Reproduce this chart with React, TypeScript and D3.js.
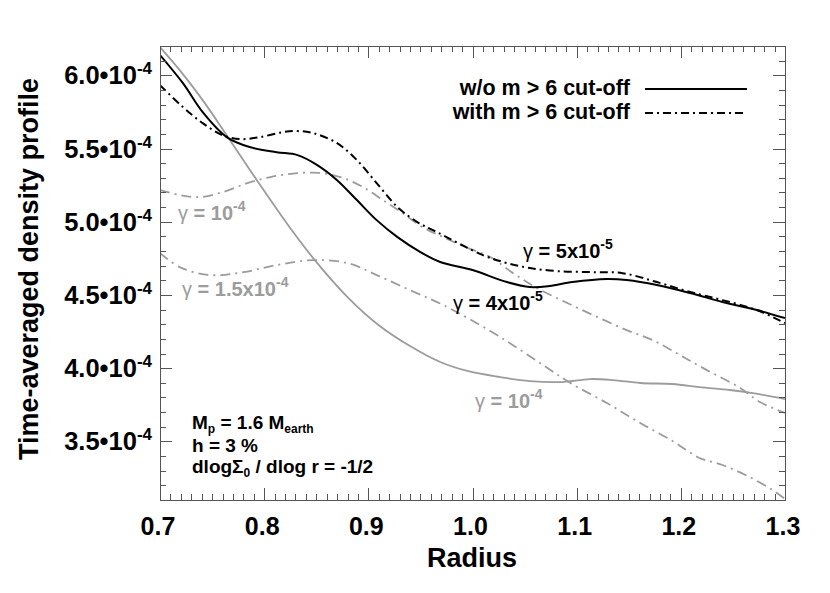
import React from 'react';
import * as d3 from 'd3';

const W = 830;
const H = 593;

// axis definitions
const xDomain = [0.7, 1.3];
const yDomain = [3.1, 6.2]; // in units of 1e-4
const xTicks = [0.7, 0.8, 0.9, 1.0, 1.1, 1.2, 1.3];
const xTickLabels = ['0.7', '0.8', '0.9', '1.0', '1.1', '1.2', '1.3'];
const yTicks = [3.5, 4.0, 4.5, 5.0, 5.5, 6.0];
const yTickLabels = ['3.5\u202210', '4.0\u202210', '4.5\u202210', '5.0\u202210', '5.5\u202210', '6.0\u202210'];
const yTickExp = '-4';

// series: w/o m>6 cut-off (gamma = 4e-5), black solid
const blackSolidR = [0.700, 0.722, 0.741, 0.764, 0.786, 0.812, 0.832, 0.851, 0.870, 0.889, 0.908, 0.928, 0.950, 0.969, 1.000, 1.033, 1.055, 1.074, 1.096, 1.129, 1.148, 1.177, 1.209, 1.240, 1.273, 1.300];
const blackSolidV = [6.138, 5.946, 5.748, 5.578, 5.510, 5.475, 5.455, 5.387, 5.284, 5.148, 5.011, 4.895, 4.793, 4.725, 4.670, 4.588, 4.554, 4.561, 4.588, 4.609, 4.602, 4.568, 4.513, 4.452, 4.397, 4.342];

// with m>6 cut-off (gamma = 5e-5), black dash-dot
const blackDashR = [0.700, 0.722, 0.741, 0.760, 0.777, 0.796, 0.818, 0.832, 0.847, 0.870, 0.889, 0.908, 0.928, 0.947, 0.966, 1.010, 1.033, 1.055, 1.081, 1.113, 1.144, 1.177, 1.209, 1.240, 1.273, 1.300];
const blackDashV = [5.933, 5.783, 5.673, 5.591, 5.564, 5.578, 5.612, 5.619, 5.605, 5.537, 5.421, 5.264, 5.100, 4.998, 4.929, 4.772, 4.718, 4.684, 4.663, 4.656, 4.649, 4.588, 4.520, 4.465, 4.397, 4.308];

// gamma = 1e-4, gray solid
const graySolidR = [0.700, 0.722, 0.743, 0.764, 0.793, 0.825, 0.847, 0.880, 0.911, 0.940, 0.969, 0.995, 1.026, 1.055, 1.084, 1.113, 1.135, 1.161, 1.192, 1.218, 1.247, 1.269, 1.300];
const graySolidV = [6.192, 6.008, 5.810, 5.591, 5.284, 4.957, 4.752, 4.486, 4.288, 4.151, 4.042, 3.981, 3.940, 3.912, 3.905, 3.926, 3.919, 3.899, 3.892, 3.871, 3.851, 3.830, 3.789];

// gamma = 1e-4, gray dash-dot
const grayDashUpperR = [0.700, 0.719, 0.738, 0.760, 0.784, 0.806, 0.832, 0.856, 0.876, 0.895, 0.914, 0.933, 0.952, 0.972, 0.993, 1.017, 1.039, 1.062, 1.091, 1.120, 1.148, 1.173, 1.199, 1.225, 1.257, 1.276, 1.300];
const grayDashUpperV = [5.216, 5.182, 5.168, 5.202, 5.264, 5.305, 5.332, 5.332, 5.298, 5.236, 5.148, 5.059, 4.963, 4.895, 4.827, 4.759, 4.649, 4.547, 4.445, 4.349, 4.260, 4.192, 4.090, 3.987, 3.865, 3.769, 3.694];

// gamma = 1.5e-4, gray dash-dot
const grayDashLowerR = [0.700, 0.719, 0.748, 0.780, 0.812, 0.847, 0.880, 0.908, 0.940, 0.972, 1.017, 1.046, 1.072, 1.094, 1.129, 1.161, 1.192, 1.218, 1.240, 1.266, 1.288, 1.300];
const grayDashLowerV = [4.786, 4.690, 4.636, 4.656, 4.704, 4.738, 4.718, 4.636, 4.533, 4.431, 4.254, 4.124, 4.001, 3.899, 3.762, 3.626, 3.503, 3.387, 3.339, 3.257, 3.168, 3.107];

const legendLabels = ['w/o m > 6 cut-off', 'with m > 6 cut-off'];

const FONT = '"Liberation Sans", Arial, Helvetica, sans-serif';
const GRAY = '#9c9c9c';
const AXIS = '#555';

const M = { left: 160, right: 785, top: 46, bottom: 500 };

export default function App() {
  const x = d3.scaleLinear().domain(xDomain).range([M.left, M.right]);
  const y = d3.scaleLinear().domain(yDomain).range([M.bottom, M.top]);

  const line = d3
    .line<[number, number]>()
    .x((d) => x(d[0]))
    .y((d) => y(d[1]))
    .curve(d3.curveCatmullRom.alpha(0.5));

  const zip = (r: number[], v: number[]) => r.map((ri, i) => [ri, v[i]] as [number, number]);

  const series = [
    { pts: zip(graySolidR, graySolidV), color: GRAY, width: 1.8, dash: undefined },
    { pts: zip(grayDashUpperR, grayDashUpperV), color: GRAY, width: 1.8, dash: '10,5,2,5' },
    { pts: zip(grayDashLowerR, grayDashLowerV), color: GRAY, width: 1.8, dash: '10,5,2,5' },
    { pts: zip(blackDashR, blackDashV), color: '#000', width: 2, dash: '8,4,2,4' },
    { pts: zip(blackSolidR, blackSolidV), color: '#000', width: 2, dash: undefined },
  ];

  const xMinor = d3.range(70, 131).map((v) => v / 100).filter((v) => Math.round(v * 100) % 10 !== 0);
  const yMinor = d3.range(31, 63).map((v) => v / 10).filter((v) => Math.round(v * 10) % 5 !== 0);

  const majLen = 12;
  const minLen = 6;

  return (
    <svg width={W} height={H} style={{ position: 'absolute', left: 0, top: 0, background: '#fff' }} fontFamily={FONT}>
      <defs>
        <clipPath id="plot">
          <rect x={M.left} y={M.top} width={M.right - M.left} height={M.bottom - M.top} />
        </clipPath>
      </defs>
      <rect x={0} y={0} width={W} height={H} fill="#fff" />

      {/* curves */}
      <g clipPath="url(#plot)">
        {series.map((s, i) => (
          <path key={i} d={line(s.pts) || ''} fill="none" stroke={s.color} strokeWidth={s.width} strokeDasharray={s.dash} />
        ))}
      </g>

      {/* frame */}
      <rect x={M.left + 0.5} y={M.top + 0.5} width={M.right - M.left} height={M.bottom - M.top} fill="none" stroke={AXIS} strokeWidth={1} />

      {/* ticks */}
      <g stroke={AXIS} strokeWidth={1}>
        {xTicks.map((t) => (
          <g key={'xm' + t}>
            <line x1={Math.round(x(t)) + 0.5} x2={Math.round(x(t)) + 0.5} y1={M.bottom} y2={M.bottom - majLen} />
            <line x1={Math.round(x(t)) + 0.5} x2={Math.round(x(t)) + 0.5} y1={M.top} y2={M.top + majLen} />
          </g>
        ))}
        {xMinor.map((t) => (
          <g key={'xn' + t}>
            <line x1={Math.round(x(t)) + 0.5} x2={Math.round(x(t)) + 0.5} y1={M.bottom} y2={M.bottom - minLen} />
            <line x1={Math.round(x(t)) + 0.5} x2={Math.round(x(t)) + 0.5} y1={M.top} y2={M.top + minLen} />
          </g>
        ))}
        {yTicks.map((t) => (
          <g key={'ym' + t}>
            <line y1={Math.round(y(t)) + 0.5} y2={Math.round(y(t)) + 0.5} x1={M.left} x2={M.left + majLen} />
            <line y1={Math.round(y(t)) + 0.5} y2={Math.round(y(t)) + 0.5} x1={M.right} x2={M.right - majLen} />
          </g>
        ))}
        {yMinor.map((t) => (
          <g key={'yn' + t}>
            <line y1={Math.round(y(t)) + 0.5} y2={Math.round(y(t)) + 0.5} x1={M.left} x2={M.left + minLen} />
            <line y1={Math.round(y(t)) + 0.5} y2={Math.round(y(t)) + 0.5} x1={M.right} x2={M.right - minLen} />
          </g>
        ))}
      </g>

      {/* x tick labels */}
      {xTicks.map((t, i) => (
        <text key={'xl' + t} x={x(t) - 2} y={535} textAnchor="middle" fontSize={25} fontWeight="bold">
          {xTickLabels[i]}
        </text>
      ))}

      {/* y tick labels */}
      {yTicks.map((t, i) => (
        <text key={'yl' + t} x={152} y={y(t) + 9} textAnchor="end" fontSize={25.5} fontWeight="bold">
          {yTickLabels[i]}
          <tspan dy={-10} fontSize={17}>{yTickExp}</tspan>
        </text>
      ))}

      {/* axis titles */}
      <text x={472} y={567} textAnchor="middle" fontSize={27} fontWeight="bold">Radius</text>
      <text transform="translate(38,269) rotate(-90)" textAnchor="middle" fontSize={27} fontWeight="bold">
        Time-averaged density profile
      </text>

      {/* legend */}
      <text x={630} y={95} textAnchor="end" fontSize={21.5} fontWeight="bold">{legendLabels[0]}</text>
      <line x1={645} x2={747} y1={89} y2={89} stroke="#000" strokeWidth={2} />
      <text x={630} y={119} textAnchor="end" fontSize={21.5} fontWeight="bold">{legendLabels[1]}</text>
      <line x1={645} x2={747} y1={113} y2={113} stroke="#000" strokeWidth={2} strokeDasharray="8,4,2,4" />

      {/* gamma labels */}
      <text x={178} y={220} fontSize={20} fontWeight="bold" fill={GRAY}>
        <tspan fontWeight="normal">γ</tspan> = 10<tspan dy={-9} fontSize={14}>-4</tspan>
      </text>
      <text x={182} y={296} fontSize={20} fontWeight="bold" fill={GRAY}>
        <tspan fontWeight="normal">γ</tspan> = 1.5x10<tspan dy={-9} fontSize={14}>-4</tspan>
      </text>
      <text x={475} y={408} fontSize={20} fontWeight="bold" fill={GRAY}>
        <tspan fontWeight="normal">γ</tspan> = 10<tspan dy={-9} fontSize={14}>-4</tspan>
      </text>
      <text x={523} y={258} fontSize={20} fontWeight="bold" fill="#000">
        <tspan fontWeight="normal">γ</tspan> = 5x10<tspan dy={-9} fontSize={14}>-5</tspan>
      </text>
      <text x={453} y={310} fontSize={20} fontWeight="bold" fill="#000">
        <tspan fontWeight="normal">γ</tspan> = 4x10<tspan dy={-9} fontSize={14}>-5</tspan>
      </text>

      {/* parameters */}
      <text x={192} y={429} fontSize={19} fontWeight="bold">
        M<tspan dy={4} fontSize={12}>p</tspan>
        <tspan dy={-4}> = 1.6 M</tspan>
        <tspan dy={4} fontSize={12}>earth</tspan>
      </text>
      <text x={192} y={452} fontSize={19} fontWeight="bold">h = 3 %</text>
      <text x={192} y={473} fontSize={19} fontWeight="bold">
        dlogΣ<tspan dy={4} fontSize={12}>0</tspan>
        <tspan dy={-4}> / dlog r = -1/2</tspan>
      </text>
    </svg>
  );
}
